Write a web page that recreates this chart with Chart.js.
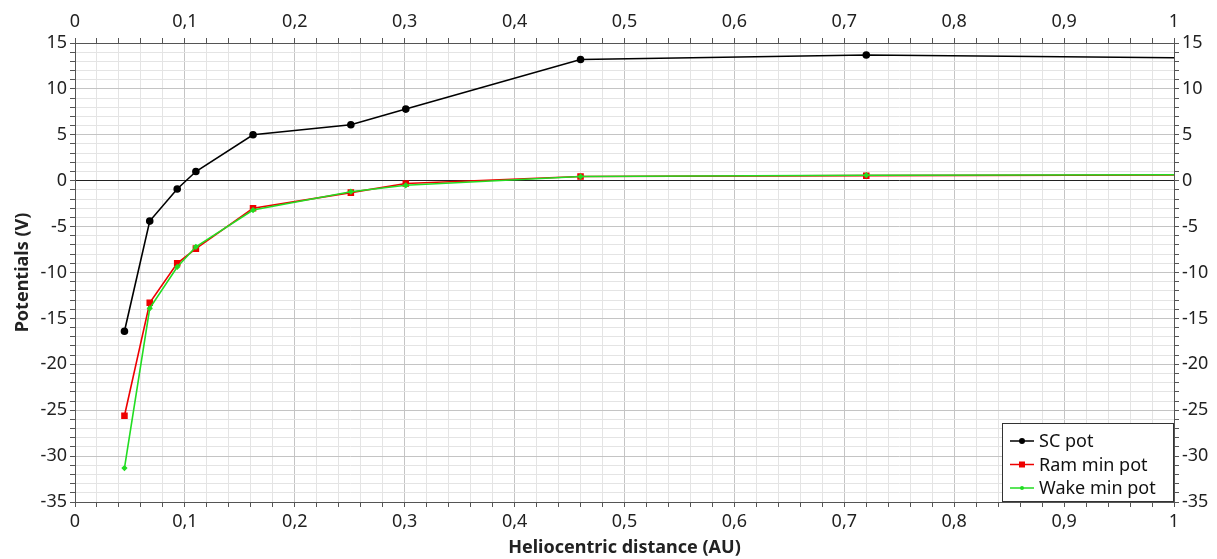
<!DOCTYPE html>
<html>
<head>
<meta charset="utf-8">
<script src="https://cdn.jsdelivr.net/npm/chart.js@4/dist/chart.umd.min.js"></script>
<style>
  html, body { margin: 0; padding: 0; background: #fff; }
  #wrap { width: 1217px; height: 559px; }
</style>
</head>
<body>
<div id="wrap"><canvas id="myChart" width="1217" height="559"></canvas></div>
<script>
'use strict'

// heliocentric distance (AU)
let distances = [0.045, 0.068, 0.093, 0.11, 0.162, 0.251, 0.301, 0.46, 0.72, 1.0];

let scPot = [-16.4, -4.4, -0.9, 1.0, 5.0, 6.1, 7.8, 13.2, 13.7, 13.4];
let ramMinPot = [-25.6, -13.3, -9.0, -7.4, -3.0, -1.3, -0.3, 0.45, 0.55, 0.62];
let wakeMinPot = [-31.3, -13.9, -9.4, -7.2, -3.2, -1.2, -0.5, 0.45, 0.6, 0.65];

let seriesNames = ['SC pot', 'Ram min pot', 'Wake min pot'];
let seriesColors = ['#000000', '#ee0000', '#22dd22'];

let xTickLabels = ['0', '0,1', '0,2', '0,3', '0,4', '0,5', '0,6', '0,7', '0,8', '0,9', '1'];
let yTickLabels = ['-35', '-30', '-25', '-20', '-15', '-10', '-5', '0', '5', '10', '15'];

function toPoints(values) {
  return values.map((v, i) => ({ x: distances[i], y: v }));
}

// last point sits on the right edge without a marker
function radii(r) {
  return distances.map((d, i) => i === distances.length - 1 ? 0 : r);
}

function xLabel(value) {
  let i = Math.round(value * 50);
  if (i % 5 !== 0) return '';
  return xTickLabels[i / 5];
}

function yLabel(value) {
  let v = Math.round(value);
  if (v % 5 !== 0) return '';
  return yTickLabels[(v + 35) / 5];
}

function xGridColor(ctx) {
  let i = Math.round(ctx.tick.value * 50);
  return i % 5 === 0 ? '#c4c4c4' : '#e4e4e4';
}

function yGridColor(ctx) {
  let v = Math.round(ctx.tick.value);
  if (v === 0) return '#222222';
  return v % 5 === 0 ? '#c4c4c4' : '#e4e4e4';
}

let tickFont = { family: 'Noto Sans', size: 18 };
let titleFont = { family: 'Noto Sans', size: 18, weight: 'bold' };

// legend box in the bottom right corner of the plot area
let boxLegend = {
  id: 'boxLegend',
  afterDraw(chart) {
    let ctx = chart.ctx;
    let area = chart.chartArea;
    let w = 172, h = 79;
    let left = area.right - w, top = area.bottom - h;
    ctx.save();
    ctx.fillStyle = '#ffffff';
    ctx.fillRect(left, top, w, h);
    ctx.strokeStyle = '#333333';
    ctx.lineWidth = 1;
    ctx.strokeRect(left + 0.5, top + 0.5, w - 1, h - 1);
    ctx.font = '18px "Noto Sans"';
    ctx.textBaseline = 'middle';
    for (let i = 0; i < seriesNames.length; i++) {
      let y = top + 18 + i * 23.5;
      ctx.strokeStyle = seriesColors[i];
      ctx.lineWidth = 1.5;
      ctx.beginPath();
      ctx.moveTo(left + 8, y);
      ctx.lineTo(left + 32, y);
      ctx.stroke();
      ctx.fillStyle = seriesColors[i];
      ctx.beginPath();
      if (i === 0) {
        ctx.arc(left + 20, y, 3, 0, Math.PI * 2);
      } else if (i === 1) {
        ctx.rect(left + 17, y - 3, 6, 6);
      } else {
        ctx.arc(left + 20, y, 2, 0, Math.PI * 2);
      }
      ctx.fill();
      ctx.fillStyle = '#111111';
      ctx.fillText(seriesNames[i], left + 37, y + 1);
    }
    ctx.restore();
  }
};

let ctx = document.getElementById('myChart').getContext('2d');
let chart = new Chart(ctx, {
  type: 'line',
  data: {
    datasets: [{
      label: seriesNames[0],
      data: toPoints(scPot),
      borderColor: seriesColors[0],
      backgroundColor: seriesColors[0],
      borderWidth: 1.6,
      pointStyle: 'circle',
      pointRadius: radii(3),
      order: 2
    },
    {
      label: seriesNames[1],
      data: toPoints(ramMinPot),
      borderColor: seriesColors[1],
      backgroundColor: seriesColors[1],
      borderWidth: 1.6,
      pointStyle: 'rect',
      pointRadius: radii(3.5),
      order: 1
    },
    {
      label: seriesNames[2],
      data: toPoints(wakeMinPot),
      borderColor: seriesColors[2],
      backgroundColor: seriesColors[2],
      borderWidth: 1.6,
      pointStyle: 'rectRot',
      pointRadius: radii(2),
      order: 0
    }]
  },
  plugins: [boxLegend],
  options: {
    responsive: false,
    animation: false,
    clip: false,
    plugins: {
      legend: { display: false },
      tooltip: { enabled: false }
    },
    layout: { padding: 0 },
    scales: {
      x: {
        type: 'linear',
        position: 'bottom',
        min: 0,
        max: 1,
        afterFit(scale) { scale.height = 57; },
        ticks: {
          stepSize: 0.02,
          autoSkip: false,
          maxRotation: 0,
          padding: 4,
          color: '#222222',
          font: tickFont,
          callback: xLabel
        },
        grid: { color: xGridColor, tickColor: '#555555', tickLength: 5 },
        border: { display: true, color: '#555555' },
        title: {
          display: true,
          text: 'Heliocentric distance (AU)',
          color: '#222222',
          font: titleFont,
          padding: { top: 0, bottom: 0 }
        }
      },
      x2: {
        type: 'linear',
        position: 'top',
        min: 0,
        max: 1,
        afterFit(scale) { scale.height = 43; },
        ticks: {
          stepSize: 0.02,
          autoSkip: false,
          maxRotation: 0,
          padding: 5,
          color: '#222222',
          font: tickFont,
          callback: xLabel
        },
        grid: { drawOnChartArea: false, color: '#555555', tickColor: '#555555', tickLength: 5 },
        border: { display: true, color: '#555555' }
      },
      y: {
        type: 'linear',
        position: 'left',
        min: -35,
        max: 15,
        afterFit(scale) { scale.width = 75; },
        ticks: {
          stepSize: 1,
          autoSkip: false,
          padding: 3,
          color: '#222222',
          font: tickFont,
          callback: yLabel
        },
        grid: { color: yGridColor, tickColor: '#555555', tickLength: 5 },
        border: { display: true, color: '#555555' },
        title: {
          display: true,
          text: 'Potentials (V)',
          color: '#222222',
          font: titleFont,
          padding: { top: 12, bottom: 0 }
        }
      },
      y2: {
        type: 'linear',
        position: 'right',
        min: -35,
        max: 15,
        afterFit(scale) { scale.width = 43; },
        ticks: {
          stepSize: 1,
          autoSkip: false,
          padding: 3,
          color: '#222222',
          font: tickFont,
          callback: yLabel
        },
        grid: { drawOnChartArea: false, color: '#555555', tickColor: '#555555', tickLength: 5 },
        border: { display: true, color: '#555555' }
      }
    }
  }
});
</script>
</body>
</html>
